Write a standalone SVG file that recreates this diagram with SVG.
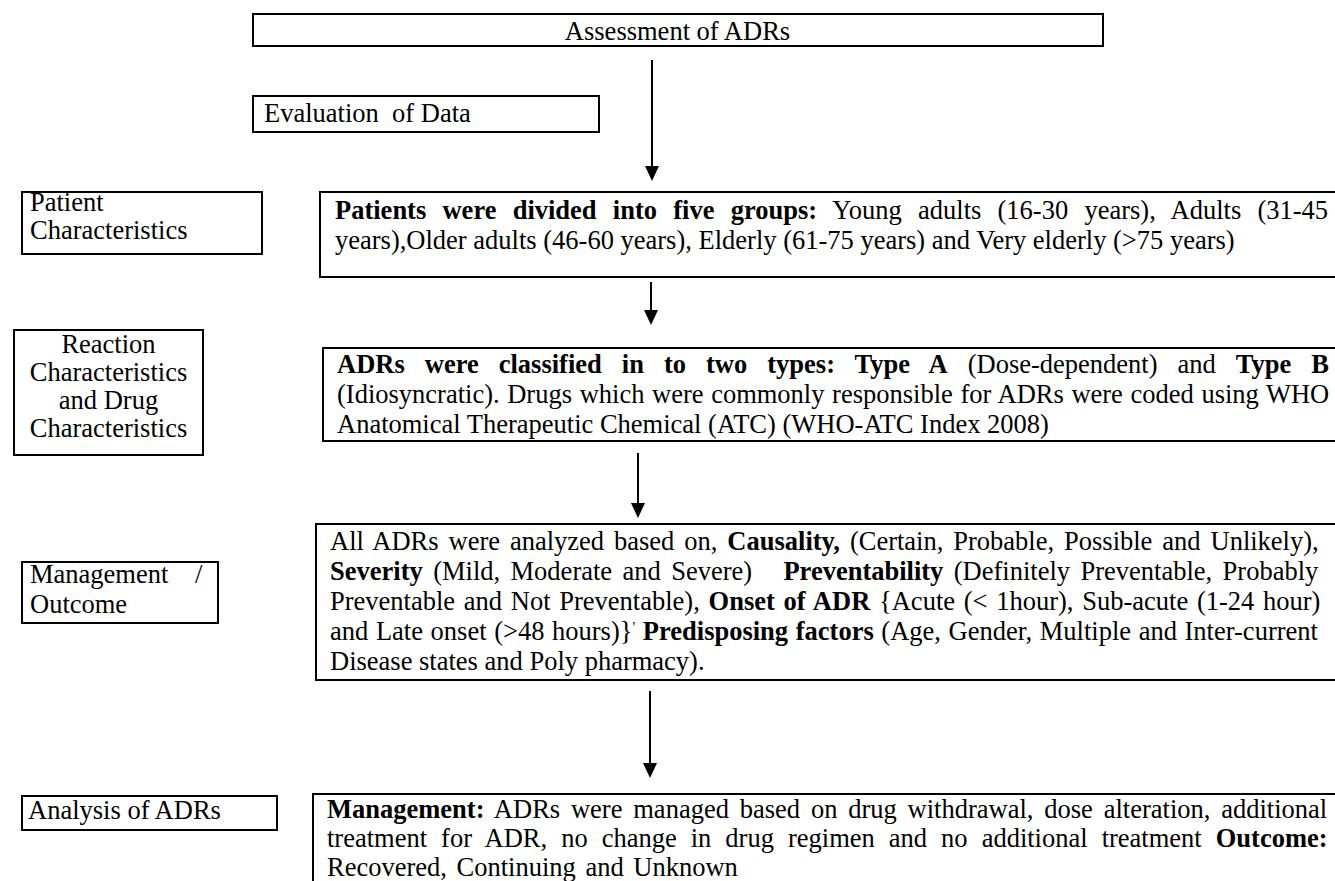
<svg xmlns="http://www.w3.org/2000/svg" width="1335" height="881" viewBox="0 0 1335 881">
<style>
text { font-family: "Liberation Serif", "Times New Roman", serif; font-size: 26.5px; fill: #000; }
.b { font-weight: bold; }
.box { fill: none; stroke: #000; stroke-width: 2; }
.conn { stroke: #000; stroke-width: 2; fill: none; }
.c { text-anchor: middle; }
</style>
<defs>
<marker id="ah" markerUnits="userSpaceOnUse" markerWidth="16" markerHeight="16" viewBox="0 0 16 16" refX="0" refY="8" orient="auto"><path d="M0,1 L15,8 L0,15 Z" fill="#000"/></marker>
</defs>
<rect width="1335" height="881" fill="#fff"/>

<g id="connectors">
<line class="conn" x1="652" y1="60" x2="652" y2="166" marker-end="url(#ah)"/>
<line class="conn" x1="651" y1="282" x2="651" y2="310" marker-end="url(#ah)"/>
<line class="conn" x1="638" y1="453" x2="638" y2="503" marker-end="url(#ah)"/>
<line class="conn" x1="650" y1="691" x2="650" y2="763" marker-end="url(#ah)"/>
</g>

<g id="assessment">
<rect class="box" x="253" y="14" width="850" height="32"/>
<text class="c" x="677.5" y="40">Assessment of ADRs</text>
</g>

<g id="evaluation">
<rect class="box" x="253" y="96" width="346" height="36"/>
<text x="264" y="122" xml:space="preserve">Evaluation  of Data</text>
</g>

<g id="patient-label">
<rect class="box" x="22" y="192" width="240" height="62"/>
<text x="30" y="211">Patient</text>
<text x="30" y="239">Characteristics</text>
</g>

<g id="patients-box">
<rect class="box" x="320" y="192" width="1030" height="85"/>
<text x="335" y="219" word-spacing="9.6"><tspan class="b">Patients were divided into five groups:</tspan> Young adults (16-30 years), Adults (31-45</text>
<text x="335" y="249">years),Older adults (46-60 years), Elderly (61-75 years) and Very elderly (&gt;75 years)</text>
</g>

<g id="reaction-label">
<rect class="box" x="14" y="330" width="189" height="125"/>
<text class="c" x="108.5" y="353">Reaction</text>
<text class="c" x="108.5" y="381">Characteristics</text>
<text class="c" x="108.5" y="409">and Drug</text>
<text class="c" x="108.5" y="437">Characteristics</text>
</g>

<g id="adr-types-box">
<rect class="box" x="323" y="348" width="1030" height="93"/>
<text x="337" y="373" word-spacing="13.4"><tspan class="b">ADRs were classified in to two types: Type A</tspan> (Dose-dependent) and <tspan class="b">Type B</tspan></text>
<text x="337" y="403" word-spacing="1">(Idiosyncratic). Drugs which were commonly responsible for ADRs were coded using WHO</text>
<text x="337" y="433">Anatomical Therapeutic Chemical (ATC) (WHO-ATC Index 2008)</text>
</g>

<g id="management-label">
<rect class="box" x="22" y="562" width="196" height="61"/>
<text x="30" y="583" word-spacing="20">Management /</text>
<text x="30" y="613">Outcome</text>
</g>

<g id="analysis-box">
<rect class="box" x="316" y="524" width="1030" height="156"/>
<text x="330" y="550" word-spacing="3.3">All ADRs were analyzed based on, <tspan class="b">Causality,</tspan> (Certain, Probable, Possible and Unlikely),</text>
<text x="330" y="580" word-spacing="3.8" xml:space="preserve"><tspan class="b">Severity</tspan> (Mild, Moderate and Severe)   <tspan class="b">Preventability</tspan> (Definitely Preventable, Probably</text>
<text x="330" y="610" word-spacing="2.1">Preventable and Not Preventable), <tspan class="b">Onset of ADR</tspan> {Acute (&lt; 1hour), Sub-acute (1-24 hour)</text>
<text x="330" y="640" word-spacing="1">and Late onset (&gt;48 hours)}<tspan font-size="15" dy="-8">'</tspan><tspan dy="8"> </tspan><tspan class="b">Predisposing factors</tspan> (Age, Gender, Multiple and Inter-current</text>
<text x="330" y="670">Disease states and Poly pharmacy).</text>
</g>

<g id="analysis-label">
<rect class="box" x="22" y="796" width="255" height="34"/>
<text x="28" y="819">Analysis of ADRs</text>
</g>

<g id="management-box">
<rect class="box" x="313" y="794" width="1040" height="120"/>
<text x="327" y="818" word-spacing="4.2"><tspan class="b">Management:</tspan> ADRs were managed based on drug withdrawal, dose alteration, additional</text>
<text x="327" y="847" word-spacing="7.4">treatment for ADR, no change in drug regimen and no additional treatment <tspan class="b">Outcome:</tspan></text>
<text x="327" y="876" word-spacing="3">Recovered, Continuing and Unknown</text>
</g>
</svg>
